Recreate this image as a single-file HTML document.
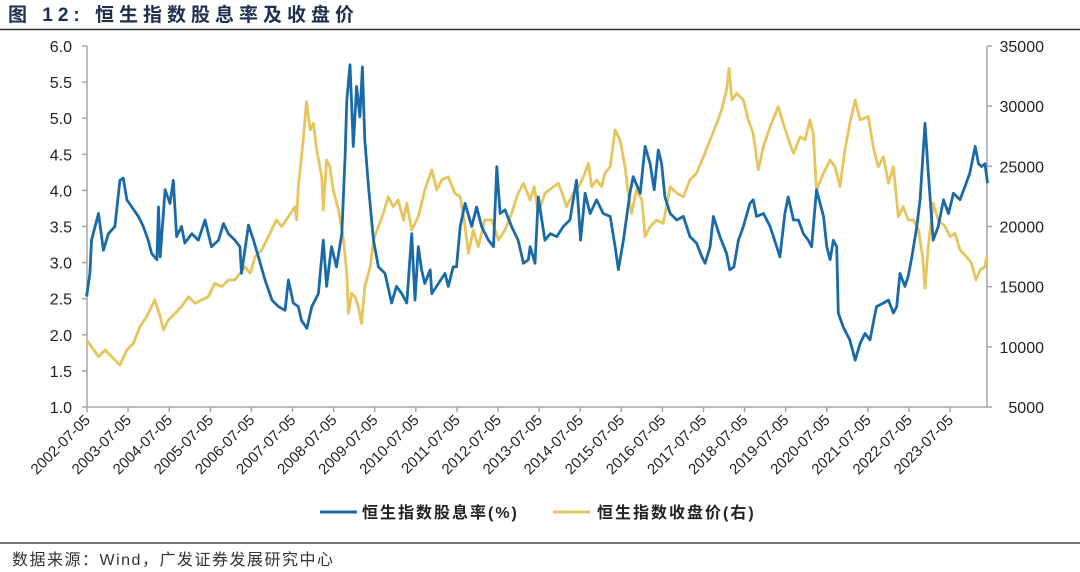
<!DOCTYPE html>
<html><head><meta charset="utf-8">
<style>
body{margin:0;background:#fff;}
svg{display:block;font-family:"Liberation Sans","Noto Sans CJK SC",sans-serif;}
</style></head>
<body>
<svg id="chart" width="1080" height="572" viewBox="0 0 1080 572" xmlns="http://www.w3.org/2000/svg">
<text x="8" y="21" font-size="19" font-weight="bold" fill="#1f2f4f" letter-spacing="5">图 12: 恒生指数股息率及收盘价</text>
<line x1="0" y1="29.5" x2="1080" y2="29.5" stroke="#333" stroke-width="1.5"/>
<g id="axes"></g>
<g id="series"></g>
<g>
<line x1="320" y1="512" x2="357" y2="512" stroke="#1b6aa8" stroke-width="3"/>
<text x="362" y="518" font-size="16" font-weight="bold" fill="#222" letter-spacing="2">恒生指数股息率(%)</text>
<line x1="553" y1="512" x2="590" y2="512" stroke="#e6c45e" stroke-width="3"/>
<text x="597" y="518" font-size="16" font-weight="bold" fill="#222" letter-spacing="2">恒生指数收盘价(右)</text>
</g>
<line x1="0" y1="543" x2="1080" y2="543" stroke="#222" stroke-width="1.2"/>
<text x="12" y="565" font-size="16" fill="#333" letter-spacing="1.5">数据来源：Wind，广发证券发展研究中心</text>
</svg>
<script>
const xTickLabels=["2002-07-05","2003-07-05","2004-07-05","2005-07-05","2006-07-05","2007-07-05","2008-07-05","2009-07-05","2010-07-05","2011-07-05","2012-07-05","2013-07-05","2014-07-05","2015-07-05","2016-07-05","2017-07-05","2018-07-05","2019-07-05","2020-07-05","2021-07-05","2022-07-05","2023-07-05"];
const leftTicks=[1.0,1.5,2.0,2.5,3.0,3.5,4.0,4.5,5.0,5.5,6.0];
const rightTicks=[5000,10000,15000,20000,25000,30000,35000];
const yieldDates=[2002.49,2002.57,2002.61,2002.78,2002.90,2003.02,2003.18,2003.30,2003.38,2003.47,2003.59,2003.75,2003.87,2003.99,2004.07,2004.20,2004.24,2004.28,2004.40,2004.52,2004.60,2004.68,2004.80,2004.88,2005.05,2005.21,2005.37,2005.53,2005.70,2005.82,2005.94,2006.10,2006.22,2006.26,2006.43,2006.55,2006.67,2006.83,2007.00,2007.16,2007.32,2007.40,2007.52,2007.64,2007.72,2007.85,2007.97,2008.13,2008.25,2008.33,2008.45,2008.57,2008.70,2008.78,2008.82,2008.90,2008.98,2009.06,2009.14,2009.20,2009.26,2009.35,2009.47,2009.59,2009.75,2009.91,2010.03,2010.16,2010.28,2010.40,2010.48,2010.56,2010.64,2010.72,2010.85,2010.89,2011.05,2011.21,2011.29,2011.41,2011.49,2011.58,2011.70,2011.86,2011.98,2012.10,2012.27,2012.39,2012.47,2012.55,2012.67,2012.83,2012.99,2013.12,2013.24,2013.28,2013.40,2013.48,2013.64,2013.77,2013.93,2014.09,2014.25,2014.41,2014.51,2014.62,2014.74,2014.90,2015.06,2015.23,2015.35,2015.43,2015.55,2015.71,2015.79,2015.96,2016.08,2016.20,2016.30,2016.40,2016.48,2016.56,2016.69,2016.85,2017.01,2017.17,2017.33,2017.46,2017.54,2017.66,2017.74,2017.90,2018.06,2018.14,2018.24,2018.35,2018.47,2018.63,2018.71,2018.79,2018.96,2019.12,2019.28,2019.36,2019.48,2019.56,2019.69,2019.81,2019.93,2020.05,2020.13,2020.25,2020.42,2020.50,2020.58,2020.66,2020.74,2020.78,2020.90,2021.06,2021.19,2021.31,2021.43,2021.55,2021.63,2021.71,2021.88,2022.00,2022.12,2022.20,2022.28,2022.40,2022.48,2022.57,2022.69,2022.77,2022.89,2022.97,2023.09,2023.21,2023.34,2023.46,2023.58,2023.74,2023.86,2023.98,2024.11,2024.19,2024.27,2024.35,2024.41];
const yieldValues=[2.53,2.85,3.31,3.68,3.17,3.40,3.50,4.14,4.17,3.87,3.77,3.64,3.50,3.31,3.13,3.04,3.77,3.08,4.01,3.82,4.14,3.36,3.50,3.27,3.40,3.31,3.59,3.22,3.31,3.54,3.40,3.31,3.22,2.85,3.52,3.31,3.08,2.76,2.48,2.39,2.34,2.76,2.44,2.39,2.20,2.09,2.39,2.57,3.31,2.67,3.22,2.94,3.40,4.47,5.25,5.74,4.61,5.44,5.02,5.71,4.70,4.05,3.31,2.94,2.85,2.44,2.67,2.57,2.44,3.40,2.48,3.22,2.90,2.71,2.90,2.57,2.71,2.85,2.67,2.94,2.94,3.50,3.82,3.50,3.77,3.50,3.31,3.22,4.33,3.68,3.73,3.50,3.31,2.99,3.04,3.22,2.99,3.91,3.31,3.40,3.36,3.50,3.59,4.14,3.31,3.96,3.68,3.87,3.68,3.64,3.22,2.90,3.31,3.96,4.19,3.96,4.61,4.37,4.01,4.56,4.37,3.91,3.68,3.59,3.64,3.36,3.27,3.08,2.99,3.22,3.64,3.36,3.13,2.90,2.94,3.31,3.50,3.82,3.87,3.64,3.68,3.50,3.22,3.08,3.68,3.91,3.59,3.59,3.40,3.31,3.22,4.01,3.64,3.22,3.04,3.31,3.22,2.30,2.11,1.93,1.65,1.88,2.02,1.93,2.16,2.39,2.44,2.48,2.30,2.39,2.85,2.67,2.81,3.08,3.50,3.87,4.93,4.24,3.31,3.50,3.87,3.68,3.96,3.87,4.05,4.24,4.61,4.37,4.33,4.37,4.10];
const closeDates=[2002.49,2002.61,2002.78,2002.94,2003.10,2003.30,2003.47,2003.63,2003.79,2003.95,2004.07,2004.15,2004.28,2004.36,2004.48,2004.64,2004.80,2004.97,2005.13,2005.29,2005.45,2005.61,2005.78,2005.94,2006.10,2006.22,2006.34,2006.47,2006.59,2006.75,2006.91,2007.11,2007.24,2007.40,2007.56,2007.60,2007.64,2007.76,2007.84,2007.93,2008.01,2008.09,2008.21,2008.25,2008.33,2008.41,2008.49,2008.62,2008.74,2008.82,2008.86,2008.94,2009.02,2009.10,2009.18,2009.26,2009.39,2009.47,2009.59,2009.71,2009.83,2009.95,2010.07,2010.20,2010.28,2010.40,2010.56,2010.72,2010.89,2011.01,2011.13,2011.29,2011.45,2011.58,2011.70,2011.78,2011.90,2012.02,2012.18,2012.35,2012.51,2012.67,2012.83,2012.99,2013.12,2013.28,2013.38,2013.48,2013.64,2013.85,2013.97,2014.09,2014.17,2014.33,2014.46,2014.58,2014.70,2014.78,2014.90,2015.02,2015.10,2015.23,2015.35,2015.47,2015.59,2015.67,2015.75,2015.87,2016.00,2016.08,2016.20,2016.36,2016.52,2016.69,2016.85,2017.01,2017.17,2017.33,2017.50,2017.66,2017.82,2017.94,2018.06,2018.12,2018.19,2018.31,2018.47,2018.59,2018.71,2018.83,2018.96,2019.12,2019.32,2019.44,2019.60,2019.69,2019.85,2019.97,2020.09,2020.17,2020.25,2020.42,2020.58,2020.70,2020.82,2020.94,2021.06,2021.19,2021.31,2021.51,2021.63,2021.75,2021.88,2022.00,2022.12,2022.24,2022.36,2022.48,2022.61,2022.73,2022.83,2022.89,2022.97,2023.09,2023.21,2023.38,2023.50,2023.62,2023.74,2023.90,2024.02,2024.13,2024.23,2024.35,2024.39];
const closeValues=[10570,10020,9180,9740,9180,8490,9740,10290,11680,12510,13340,13890,12510,11400,12230,12780,13340,14170,13620,13890,14170,15280,15000,15550,15550,16110,16660,16110,17490,18050,19160,20540,19990,20820,21650,20540,23310,27190,30370,28020,28570,26360,24140,21370,25530,24970,23030,21370,18880,16110,12790,14450,14170,13340,11950,15000,16660,18880,19990,21100,22480,21650,22200,20540,21930,19710,20820,23030,24700,23030,23865,24140,22760,22480,19990,17770,19710,18330,20540,20540,18880,19710,21100,22760,23590,22200,23310,21100,22760,23310,23590,22480,21650,22760,23310,24140,25250,23310,23865,23310,24420,24970,28020,27190,24970,22760,21100,23030,22200,19160,19990,20540,20260,23310,22760,22480,23865,24420,25800,27190,28570,29680,31340,33140,30510,31070,30510,28850,27740,24700,26640,28300,29960,28570,26910,26080,27460,27190,28850,27740,23030,24420,25530,24970,23310,26360,28570,30510,28850,29130,26640,24970,25800,23590,24970,20820,21650,20540,20540,19710,17490,14860,18330,21930,20540,19990,19160,19430,18050,17490,16940,15550,16380,16660,17490];

const NS="http://www.w3.org/2000/svg";
const X0=87,X1=987,Y0=46,Y1=407,YEAR0=2002.5,PX_PER_YEAR=41.1;
const xScale=t=>X0+(t-YEAR0)*PX_PER_YEAR;
const yLeft=v=>Y1-(v-1)/(6-1)*(Y1-Y0);
const yRight=v=>Y1-(v-5000)/(35000-5000)*(Y1-Y0);
function mk(tag,attrs,parent){const e=document.createElementNS(NS,tag);for(const k in attrs)e.setAttribute(k,attrs[k]);parent.appendChild(e);return e;}
const axes=document.getElementById('axes');
const ax=[["left-axis-line",X0,Y0,X0,Y1],["right-axis-line",X1,Y0,X1,Y1],["x-axis-line",X0,Y1,X1,Y1]];
ax.forEach(a=>{const l=mk('line',{x1:a[1],y1:a[2],x2:a[3],y2:a[4],stroke:'#a6a6a6','stroke-width':1.5},axes);

});
leftTicks.forEach(v=>{const y=yLeft(v);
const t=mk('line',{x1:X0-5,y1:y,x2:X0,y2:y,stroke:'#a6a6a6','stroke-width':1.5},axes);


const tx=mk('text',{x:72,y:y+6,'text-anchor':'end','font-size':16,fill:'#222'},axes);tx.textContent=v.toFixed(1);

});
rightTicks.forEach(v=>{const y=yRight(v);
const t=mk('line',{x1:X1,y1:y,x2:X1+5,y2:y,stroke:'#a6a6a6','stroke-width':1.5},axes);


const tx=mk('text',{x:1044,y:y+6,'text-anchor':'end','font-size':16,fill:'#222'},axes);tx.textContent=String(v);

});
xTickLabels.forEach((s,i)=>{const x=xScale(YEAR0+i);
const t=mk('line',{x1:x,y1:Y1,x2:x,y2:Y1+5,stroke:'#a6a6a6','stroke-width':1.5},axes);


const tx=mk('text',{x:x+4,y:Y1+14,'text-anchor':'end','font-size':15,fill:'#222',transform:`rotate(-45 ${x+4} ${Y1+14})`},axes);tx.textContent=s;

});
const series=document.getElementById('series');
function path(dates,vals,ys){return dates.map((d,i)=>(i?'L':'M')+xScale(d).toFixed(1)+' '+ys(vals[i]).toFixed(1)).join(' ');}
const pc=mk('path',{d:path(closeDates,closeValues,yRight),fill:'none',stroke:'#e6c45e','stroke-width':2.8,'stroke-linejoin':'round'},series);


const py=mk('path',{d:path(yieldDates,yieldValues,yLeft),fill:'none',stroke:'#1b6aa8','stroke-width':2.8,'stroke-linejoin':'round'},series);


</script>
</body></html>
